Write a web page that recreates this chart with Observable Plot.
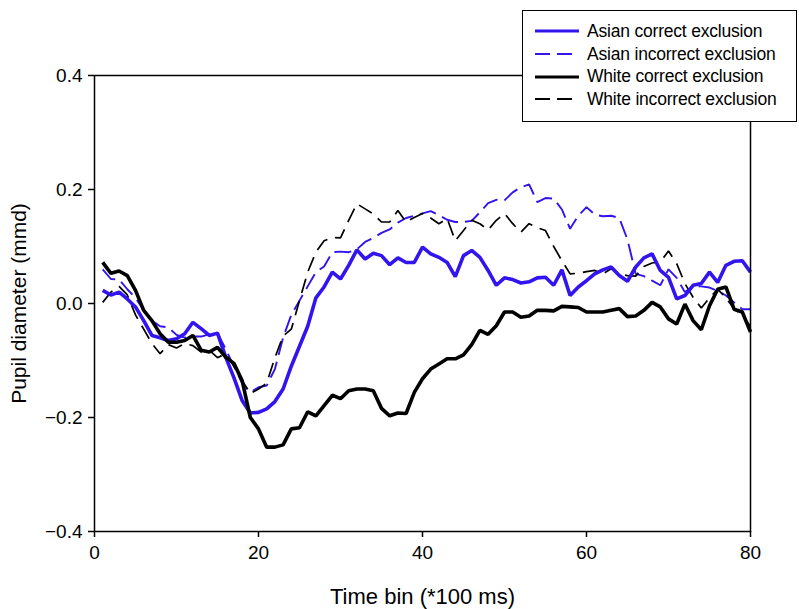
<!DOCTYPE html>
<html>
<head>
<meta charset="utf-8">
<script src="https://cdn.jsdelivr.net/npm/d3@7"></script>
<script src="https://cdn.jsdelivr.net/npm/@observablehq/plot@0.6"></script>
<style>
  html, body { margin: 0; padding: 0; background: #fff; }
  #wrap { position: relative; width: 799px; height: 609px; font-family: "Liberation Sans", Arial, sans-serif; }
  #legend { position: absolute; left: 522px; top: 10px; width: 275px; height: 112px; background: #fff; border: 1.5px solid #000; box-sizing: border-box; padding-top: 9px; }
  .row { display: flex; align-items: center; height: 22.7px; font-size: 17.5px; color: #000; letter-spacing: -0.2px; }
  .row svg { margin-left: 12px; margin-right: 8px; }
</style>
</head>
<body>
<div id="wrap"></div>
<script>
// Time bins (*100 ms)
const timeBins = d3.range(1, 81);

const asianCorrect = [0.023,0.015,0.020,0.008,-0.006,-0.030,-0.056,-0.060,-0.065,-0.062,
  -0.053,-0.033,-0.044,-0.056,-0.052,-0.094,-0.130,-0.170,-0.192,-0.191,
  -0.185,-0.172,-0.150,-0.110,-0.075,-0.040,0.010,0.029,0.055,0.043,
  0.067,0.094,0.078,0.088,0.084,0.068,0.080,0.072,0.072,0.099,
  0.087,0.081,0.072,0.047,0.084,0.093,0.081,0.058,0.032,0.045,
  0.042,0.036,0.038,0.045,0.046,0.032,0.059,0.014,0.029,0.040,
  0.052,0.059,0.064,0.049,0.039,0.064,0.080,0.087,0.058,0.046,
  0.008,0.014,0.032,0.035,0.055,0.037,0.067,0.074,0.075,0.055];

const asianIncorrect = [0.060,0.043,0.042,0.025,0.010,-0.012,-0.030,-0.040,-0.042,-0.055,
  -0.060,-0.058,-0.058,-0.054,-0.052,-0.080,-0.110,-0.140,-0.156,-0.147,
  -0.144,-0.115,-0.060,-0.020,0.005,0.030,0.055,0.065,0.090,0.091,
  0.090,0.095,0.108,0.115,0.124,0.130,0.142,0.150,0.154,0.158,
  0.162,0.155,0.147,0.143,0.143,0.145,0.160,0.176,0.182,0.181,
  0.195,0.204,0.209,0.178,0.185,0.184,0.165,0.131,0.154,0.169,
  0.156,0.153,0.154,0.150,0.112,0.052,0.048,0.040,0.032,0.060,
  0.045,0.020,0.030,0.030,0.028,0.022,0.014,0.002,-0.010,-0.010];

const whiteCorrect = [0.072,0.053,0.057,0.049,0.023,-0.012,-0.030,-0.053,-0.068,-0.068,
  -0.065,-0.056,-0.082,-0.085,-0.077,-0.094,-0.105,-0.135,-0.200,-0.220,
  -0.252,-0.252,-0.248,-0.220,-0.218,-0.190,-0.197,-0.179,-0.161,-0.167,
  -0.153,-0.150,-0.150,-0.153,-0.184,-0.197,-0.192,-0.193,-0.156,-0.132,
  -0.115,-0.106,-0.097,-0.097,-0.090,-0.072,-0.047,-0.054,-0.039,-0.015,
  -0.015,-0.024,-0.022,-0.012,-0.012,-0.013,-0.005,-0.006,-0.007,-0.015,
  -0.015,-0.015,-0.012,-0.009,-0.023,-0.022,-0.012,0.002,-0.006,-0.027,
  -0.036,-0.001,-0.030,-0.046,-0.004,0.025,0.029,-0.010,-0.015,-0.050];

const whiteIncorrect = [0.002,0.020,0.030,0.015,-0.020,-0.045,-0.070,-0.088,-0.072,-0.078,
  -0.070,-0.074,-0.085,-0.082,-0.095,-0.088,-0.110,-0.135,-0.158,-0.150,
  -0.140,-0.095,-0.057,-0.045,0.005,0.055,0.090,0.110,0.116,0.115,
  0.146,0.175,0.166,0.157,0.143,0.143,0.163,0.143,0.151,0.158,
  0.150,0.140,0.149,0.110,0.128,0.146,0.140,0.129,0.146,0.158,
  0.140,0.125,0.140,0.133,0.128,0.100,0.075,0.052,0.053,0.056,
  0.058,0.052,0.061,0.052,0.049,0.048,0.065,0.071,0.073,0.092,
  0.070,0.035,0.011,-0.008,0.010,0.025,0.010,-0.009,-0.021,-0.040];

const seriesNames = ["Asian correct exclusion", "Asian incorrect exclusion", "White correct exclusion", "White incorrect exclusion"];
const xTicks = [0, 20, 40, 60, 80];
const yTicks = [-0.4, -0.2, 0.0, 0.2, 0.4];

const BLUE = "#3214ee";
const styles = {
  "Asian correct exclusion":   {stroke: BLUE, width: 3.6, dash: null},
  "Asian incorrect exclusion": {stroke: BLUE, width: 1.9, dash: "17,7"},
  "White correct exclusion":   {stroke: "#000", width: 3.6, dash: null},
  "White incorrect exclusion": {stroke: "#000", width: 1.7, dash: "15,8"}
};
const seriesValues = [asianCorrect, asianIncorrect, whiteCorrect, whiteIncorrect];
const rows = seriesNames.map((name, i) => timeBins.map((t, j) => ({t, v: seriesValues[i][j], name})));

const drawOrder = ["Asian incorrect exclusion", "White incorrect exclusion", "Asian correct exclusion", "White correct exclusion"];

const fmt = d3.format(".1f");

const chart = Plot.plot({
  width: 799,
  height: 609,
  marginLeft: 94,
  marginRight: 49,
  marginTop: 75,
  marginBottom: 78,
  style: {fontFamily: '"Liberation Sans", Arial, sans-serif', fontSize: "19px", color: "#000", background: "#fff"},
  x: {domain: [0, 80]},
  y: {domain: [-0.4, 0.4]},
  marks: [
    Plot.axisX({ticks: xTicks, tickSize: 6, tickPadding: 8, tickFormat: d => String(d), label: "Time bin (*100 ms)", labelAnchor: "center", labelArrow: "none", labelOffset: 72, fontSize: 19, strokeWidth: 1.5}),
    Plot.axisY({ticks: yTicks, tickSize: 6, tickPadding: 6, tickFormat: d => fmt(d), label: "Pupil diameter (mmd)", labelAnchor: "center", labelArrow: "none", labelOffset: 83, fontSize: 19, strokeWidth: 1.5}),
    ...drawOrder.map(name => {
      const s = styles[name];
      return Plot.line(rows[seriesNames.indexOf(name)], {x: "t", y: "v", stroke: s.stroke, strokeWidth: s.width, strokeDasharray: s.dash, strokeLinejoin: "miter", strokeLinecap: "butt"});
    }),
    Plot.frame({stroke: "#000", strokeWidth: 1.5})
  ]
});

const wrap = document.getElementById("wrap");
wrap.appendChild(chart);
chart.querySelectorAll("g[aria-label='x-axis label'] text").forEach(t => t.setAttribute("font-size", "22px"));
chart.querySelectorAll("g[aria-label='y-axis label'] text").forEach(t => t.setAttribute("font-size", "21px"));

const legend = document.createElement("div");
legend.id = "legend";
seriesNames.forEach(name => {
  const s = styles[name];
  const row = document.createElement("div");
  row.className = "row";
  const sw = `<svg width="44" height="10"><line x1="0" x2="44" y1="5" y2="5" stroke="${s.stroke}" stroke-width="${s.width > 3 ? 3.2 : 2.2}" ${s.dash ? 'stroke-dasharray="15,7"' : ''}/></svg>`;
  row.innerHTML = sw + `<span>${name}</span>`;
  legend.appendChild(row);
});
wrap.appendChild(legend);
</script>
</body>
</html>
